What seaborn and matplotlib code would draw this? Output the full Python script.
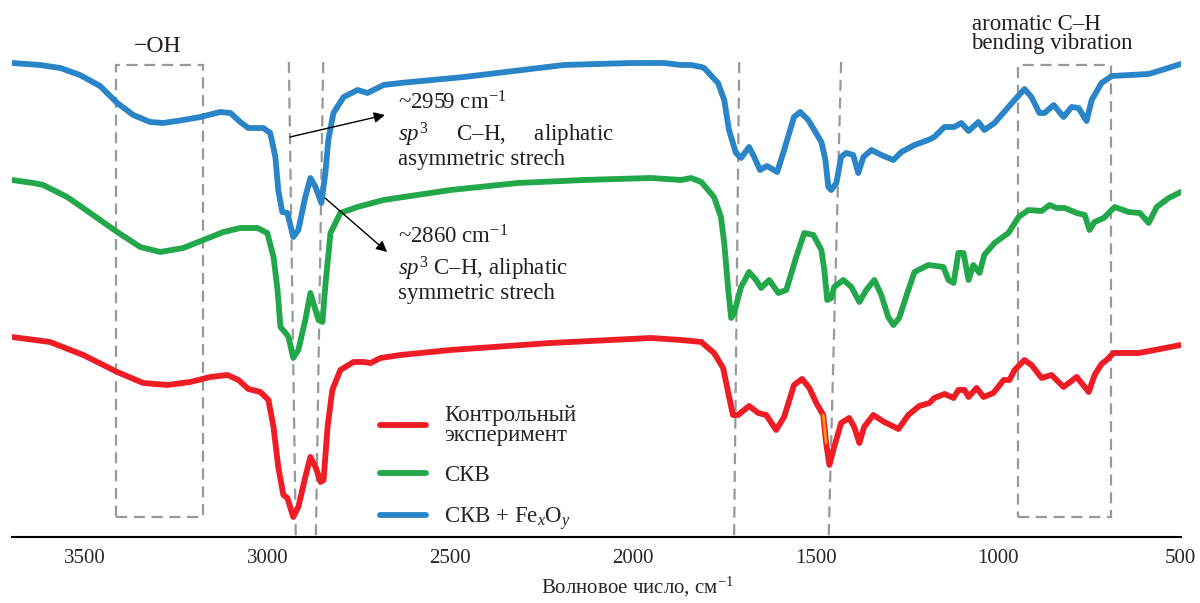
import pandas as pd
import seaborn as sns
import matplotlib.pyplot as plt
from matplotlib.patches import Rectangle

# FTIR spectra (wavenumber, cm^-1 / stacked transmittance, a.u.)
wn_control = [3700, 3596, 3505, 3412, 3341, 3275, 3212, 3157, 3110, 3080, 3053, 3020, 2998,
              2984, 2971, 2957, 2946, 2930, 2916, 2897, 2883, 2869, 2855, 2847, 2836, 2823,
              2801, 2765, 2738, 2718, 2691, 2636, 2499, 2225, 1951, 1868, 1813, 1778, 1753,
              1739, 1726, 1712, 1682, 1657, 1635, 1608, 1586, 1559, 1537, 1517, 1498, 1479,
              1471, 1462, 1449, 1430, 1408, 1394, 1380, 1367, 1342, 1312, 1273, 1246, 1216,
              1188, 1175, 1147, 1122, 1109, 1092, 1081, 1059, 1040, 1013, 985, 969, 955, 928,
              909, 881, 854, 821, 785, 752, 736, 717, 703, 684, 615, 571, 500]
t_control = [2.00, 1.95, 1.82, 1.65, 1.54, 1.52, 1.55, 1.60, 1.62, 1.57, 1.48, 1.45, 1.37,
             1.10, 0.70, 0.42, 0.39, 0.20, 0.30, 0.60, 0.80, 0.70, 0.55, 0.57, 1.10, 1.47,
             1.67, 1.75, 1.75, 1.74, 1.79, 1.82, 1.87, 1.94, 1.99, 1.97, 1.95, 1.84, 1.69,
             1.44, 1.22, 1.22, 1.31, 1.24, 1.22, 1.07, 1.20, 1.52, 1.58, 1.49, 1.34, 1.22,
             0.94, 0.72, 0.90, 1.14, 1.19, 1.10, 0.94, 1.10, 1.22, 1.15, 1.08, 1.22, 1.31,
             1.34, 1.39, 1.43, 1.39, 1.47, 1.47, 1.40, 1.49, 1.40, 1.44, 1.57, 1.57, 1.67, 1.77,
             1.72, 1.59, 1.62, 1.50, 1.60, 1.45, 1.62, 1.73, 1.77, 1.84, 1.84, 1.87, 1.92]

wn_skv = [3700, 3642, 3615, 3549, 3486, 3412, 3349, 3294, 3231, 3176, 3121, 3075, 3028, 3001,
          2984, 2973, 2965, 2951, 2943, 2930, 2916, 2897, 2883, 2861, 2850, 2842, 2828, 2801,
          2754, 2683, 2499, 2315, 2134, 1951, 1868, 1841, 1813, 1778, 1759, 1750, 1739, 1731,
          1723, 1704, 1682, 1663, 1649, 1627, 1602, 1580, 1553, 1531, 1506, 1484, 1476, 1468,
          1457, 1449, 1424, 1402, 1380, 1361, 1339, 1320, 1301, 1287, 1271, 1246, 1229, 1191,
          1150, 1136, 1122, 1109, 1095, 1081, 1068, 1051, 1038, 1010, 972, 944, 917, 881, 859,
          840, 818, 785, 763, 750, 736, 711, 681, 643, 612, 588, 566, 533, 500]
t_skv = [3.57, 3.54, 3.52, 3.40, 3.24, 3.05, 2.90, 2.85, 2.89, 2.97, 3.05, 3.09, 3.09, 3.04,
         2.80, 2.47, 2.10, 2.04, 2.00, 1.79, 1.87, 2.17, 2.44, 2.17, 2.15, 2.52, 3.04, 3.24,
         3.30, 3.37, 3.47, 3.54, 3.57, 3.59, 3.57, 3.59, 3.55, 3.40, 3.20, 2.94, 2.47, 2.19,
         2.24, 2.50, 2.65, 2.57, 2.49, 2.57, 2.44, 2.47, 2.80, 3.04, 3.02, 2.87, 2.67, 2.37,
         2.39, 2.50, 2.57, 2.50, 2.35, 2.47, 2.57, 2.42, 2.20, 2.12, 2.19, 2.47, 2.65, 2.72,
         2.70, 2.57, 2.54, 2.84, 2.84, 2.57, 2.72, 2.64, 2.82, 2.94, 3.04, 3.20, 3.27, 3.26, 3.32,
         3.29, 3.29, 3.24, 3.22, 3.07, 3.15, 3.19, 3.30, 3.25, 3.24, 3.14, 3.30, 3.39, 3.45]

wn_skv_fe = [3700, 3623, 3568, 3514, 3459, 3412, 3368, 3322, 3286, 3231, 3184, 3130, 3102, 3075,
             3053, 3012, 2993, 2979, 2971, 2960, 2946, 2930, 2916, 2897, 2883, 2869, 2853, 2842,
             2834, 2820, 2792, 2754, 2727, 2699, 2683, 2636, 2463, 2189, 2005, 1915, 1868, 1841,
             1813, 1805, 1767, 1750, 1737, 1718, 1704, 1682, 1668, 1652, 1633, 1605, 1586, 1559,
             1542, 1520, 1484, 1473, 1465, 1457, 1443, 1430, 1416, 1397, 1383, 1369, 1347, 1320,
             1287, 1265, 1229, 1191, 1175, 1147, 1120, 1101, 1081, 1054, 1038, 1010, 991, 955, 928,
             909, 887, 873, 848, 821, 799, 780, 758, 744, 717, 689, 588, 552, 500]
t_skv_fe = [4.74, 4.72, 4.69, 4.62, 4.51, 4.34, 4.22, 4.15, 4.14, 4.17, 4.20, 4.25, 4.24, 4.15,
            4.09, 4.09, 4.04, 3.80, 3.47, 3.25, 3.24, 3.00, 3.07, 3.40, 3.59, 3.50, 3.34, 3.64,
            3.97, 4.24, 4.40, 4.47, 4.44, 4.49, 4.52, 4.54, 4.60, 4.72, 4.74, 4.74, 4.72, 4.72,
            4.70, 4.69, 4.54, 4.37, 4.07, 3.84, 3.79, 3.90, 3.80, 3.67, 3.71, 3.65, 3.87, 4.20,
            4.25, 4.17, 3.95, 3.77, 3.50, 3.47, 3.54, 3.80, 3.84, 3.82, 3.64, 3.80, 3.87, 3.82,
            3.77, 3.85, 3.92, 3.97, 4.00, 4.10, 4.10, 4.14, 4.06, 4.15, 4.07, 4.14, 4.22, 4.37, 4.48,
            4.40, 4.24, 4.24, 4.32, 4.20, 4.30, 4.29, 4.16, 4.37, 4.54, 4.61, 4.63, 4.67, 4.73]

series_names = ["Контрольный\nэксперимент", "СКВ", "СКВ + Fe$_\\mathit{x}$O$_\\mathit{y}$"]
series_colors = ["#EE1D25", "#22A84A", "#2A84C8"]

# band guides: (wn at top, wn at bottom)
band_lines = [(2942, 2923), (2848, 2868), (1709, 1723), (1430, 1464)]
# region boxes: (wn_left, wn_right)
oh_box = (3415, 3177)
arom_box = (946, 692)

tick_values = [3500, 3000, 2500, 2000, 1500, 1000, 500]

df = pd.concat([
    pd.DataFrame({"wn": wn_control, "T": t_control, "sample": series_names[0]}),
    pd.DataFrame({"wn": wn_skv, "T": t_skv, "sample": series_names[1]}),
    pd.DataFrame({"wn": wn_skv_fe, "T": t_skv_fe, "sample": series_names[2]}),
], ignore_index=True)

sns.set_style("white")
plt.rcParams["font.family"] = ["Liberation Serif", "DejaVu Serif"]
plt.rcParams["mathtext.fontset"] = "custom"
plt.rcParams["mathtext.rm"] = "Liberation Serif"
plt.rcParams["mathtext.it"] = "Liberation Serif:italic"
plt.rcParams["mathtext.bf"] = "Liberation Serif:bold"

fig = plt.figure(figsize=(12, 6.03), dpi=100)
ax = fig.add_axes([0.01, 0.1095, 0.974, 0.8905])

guide = dict(color="#999999", lw=1.6, ls=(0, (5, 3)), zorder=1)
for top, bottom in band_lines:
    ax.plot([top, bottom], [4.75, 0.0], **guide)
for left, right in (oh_box, arom_box):
    ax.add_patch(Rectangle((left, 0.20), right - left, 4.52, fill=False, **guide))

sns.lineplot(data=df, x="wn", y="T", hue="sample", palette=series_colors,
             hue_order=series_names, sort=False, estimator=None, lw=4.2, ax=ax, zorder=3,
             solid_joinstyle="round", solid_capstyle="round")

# small orange highlight on the control curve near 1470 cm^-1
hl = df[(df["sample"] == series_names[0]) & (df["wn"] <= 1479) & (df["wn"] >= 1466)]
ax.plot(hl["wn"], hl["T"], color="#F7941D", lw=2.0, zorder=4)

ax.set_xlim(3700, 500)
ax.set_ylim(0, 5.37)
ax.set_yticks([])
ax.set_xticks(tick_values)
ax.set_xticklabels([str(v) for v in tick_values])
ax.tick_params(axis="x", direction="in", length=9, width=1.2, pad=9, labelsize=15, color="black")
for side in ("left", "right", "top"):
    ax.spines[side].set_visible(False)
ax.spines["bottom"].set_color("black")
ax.spines["bottom"].set_linewidth(1.5)
ax.set_xlabel("Волновое число, см$^{-1}$", fontsize=15)
ax.xaxis.set_label_coords(0.535, -0.07)
ax.set_ylabel("")

handles, labels = ax.get_legend_handles_labels()
leg = ax.legend(handles[:3], labels[:3], loc="upper left", bbox_to_anchor=(0.315, 0.246),
                frameon=False, fontsize=16.5, handlelength=2.0, handletextpad=0.8,
                labelspacing=0.84, borderpad=0, borderaxespad=0)
for h in leg.legend_handles:
    h.set_linewidth(4.2)
leg.get_texts()[0].set_linespacing(0.95)

txt = dict(fontsize=16.5, color="#231F20", va="baseline", ha="left")
ax.text(2644, 4.27, "~2959 cm$^{-1}$", **txt)
ax.text(2644, 3.72, "$\\mathit{sp}^{3}$     C\u2013H,     aliphatic\nasymmetric strech",
        linespacing=1.0, **txt)
ax.text(2644, 2.93, "~2860 cm$^{-1}$", **txt)
ax.text(2644, 2.38, "$\\mathit{sp}^{3}$ C\u2013H, aliphatic\nsymmetric strech",
        linespacing=1.0, **txt)

ax.text(3300, 4.85, "\u2212OH", fontsize=17, color="#231F20", va="baseline", ha="center")
ax.text(1073, 4.88, "aromatic C\u2013H\nbending vibration", linespacing=0.85, **txt)

arrow = dict(arrowstyle="-|>", color="black", lw=1.0, mutation_scale=16, shrinkA=0, shrinkB=0)
ax.annotate("", xy=(2679, 4.22), xytext=(2939, 4.00), arrowprops=arrow)
ax.annotate("", xy=(2673, 2.85), xytext=(2843, 3.39), arrowprops=arrow)

fig.savefig("out.png", dpi=100, facecolor="white")
